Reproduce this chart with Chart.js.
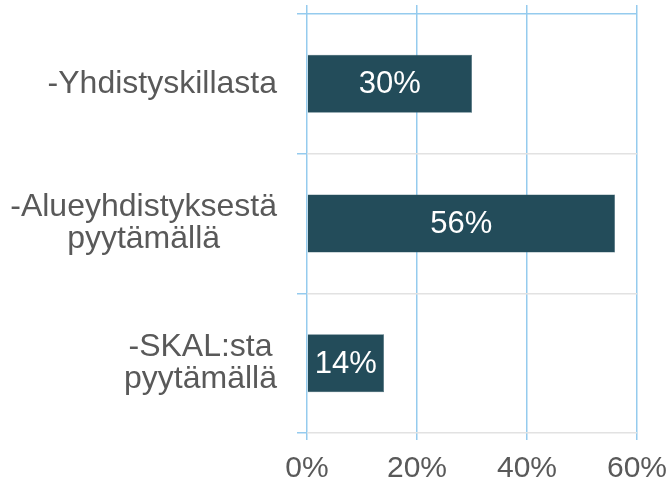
<!DOCTYPE html>
<html>
<head>
<meta charset="utf-8">
<script src="https://cdn.jsdelivr.net/npm/chart.js@4/dist/chart.umd.min.js"></script>
<style>
  html, body { margin: 0; padding: 0; background: #fff; }
  #wrap { width: 671px; height: 485px; }
</style>
</head>
<body>
<div id="wrap"><canvas id="chart"></canvas></div>
<script>
// chart data
const categories = [
  ["-Yhdistyskillasta"],
  ["-Alueyhdistyksestä", "pyytämällä"],
  ["-SKAL:sta", "pyytämällä"],
];
const shares = [30, 56, 14];
const xTicks = [0, 20, 40, 60];

const blue = "#95CBEE";
const grey = "#E2E2E2";
const textGrey = "#595959";
const font = "'Liberation Sans', Arial, sans-serif";

// y labels: right aligned block, lines centred inside it
const yLabelPlugin = {
  id: "yLabels",
  afterDraw(chart) {
    const sc = chart.scales.y;
    const ctx = chart.ctx;
    ctx.save();
    ctx.font = "32px " + font;
    ctx.fillStyle = textGrey;
    ctx.textAlign = "center";
    ctx.textBaseline = "middle";
    categories.forEach((lines, i) => {
      const y = sc.getPixelForTick(i);
      const w = Math.max(...lines.map((l) => ctx.measureText(l).width));
      const cx = sc.right - 30 - w / 2;
      const lh = 32;
      const y0 = y - ((lines.length - 1) * lh) / 2;
      lines.forEach((l, j) => ctx.fillText(l, cx, y0 + j * lh));
    });
    ctx.restore();
  },
};

// value labels in the bars
const valueLabelPlugin = {
  id: "valueLabels",
  afterDatasetsDraw(chart) {
    const ctx = chart.ctx;
    const meta = chart.getDatasetMeta(0);
    ctx.save();
    ctx.font = "31px " + font;
    ctx.fillStyle = "#ffffff";
    ctx.textAlign = "center";
    ctx.textBaseline = "middle";
    meta.data.forEach((bar, i) => {
      ctx.fillText(shares[i] + "%", (bar.x + bar.base) / 2, bar.y + 1);
    });
    ctx.restore();
  },
};

new Chart(document.getElementById("chart"), {
  type: "bar",
  data: {
    labels: categories,
    datasets: [
      {
        data: shares,
        backgroundColor: "#234C5A",
        borderColor: "#3E6370",
        borderWidth: 0.5,
        barPercentage: 0.415,
        categoryPercentage: 1,
      },
    ],
  },
  options: {
    indexAxis: "y",
    responsive: true,
    maintainAspectRatio: false,
    animation: false,
    layout: { padding: { top: 5, right: 34, left: 0, bottom: 0 } },
    plugins: { legend: { display: false }, tooltip: { enabled: false } },
    scales: {
      x: {
        position: "bottom",
        min: 0,
        max: 60,
        afterBuildTicks: (s) => { s.ticks = xTicks.map((v) => ({ value: v })); },
        afterFit: (s) => { s.height = 52; s.paddingLeft = 0; s.paddingRight = 0; },
        border: { display: false },
        grid: { color: blue, lineWidth: 1.5, tickLength: 7 },
        ticks: {
          color: textGrey,
          padding: 12,
          font: { size: 30, family: font, lineHeight: 1.1 },
          callback: (v) => v + "%",
        },
      },
      x2: {
        position: "top",
        min: 0,
        max: 60,
        afterBuildTicks: (s) => { s.ticks = xTicks.map((v) => ({ value: v })); },
        border: { display: false },
        grid: { color: blue, lineWidth: 1.5, tickLength: 9, drawOnChartArea: false },
        ticks: { display: false },
      },
      y: {
        border: { display: false },
        afterFit: (s) => { s.width = 307; },
        grid: {
          color: (c) => (c.index === 0 ? blue : grey),
          tickColor: blue,
          lineWidth: 1.5,
          tickLength: 10,
        },
        ticks: { display: false },
      },
    },
  },
  plugins: [yLabelPlugin, valueLabelPlugin],
});
</script>
</body>
</html>
